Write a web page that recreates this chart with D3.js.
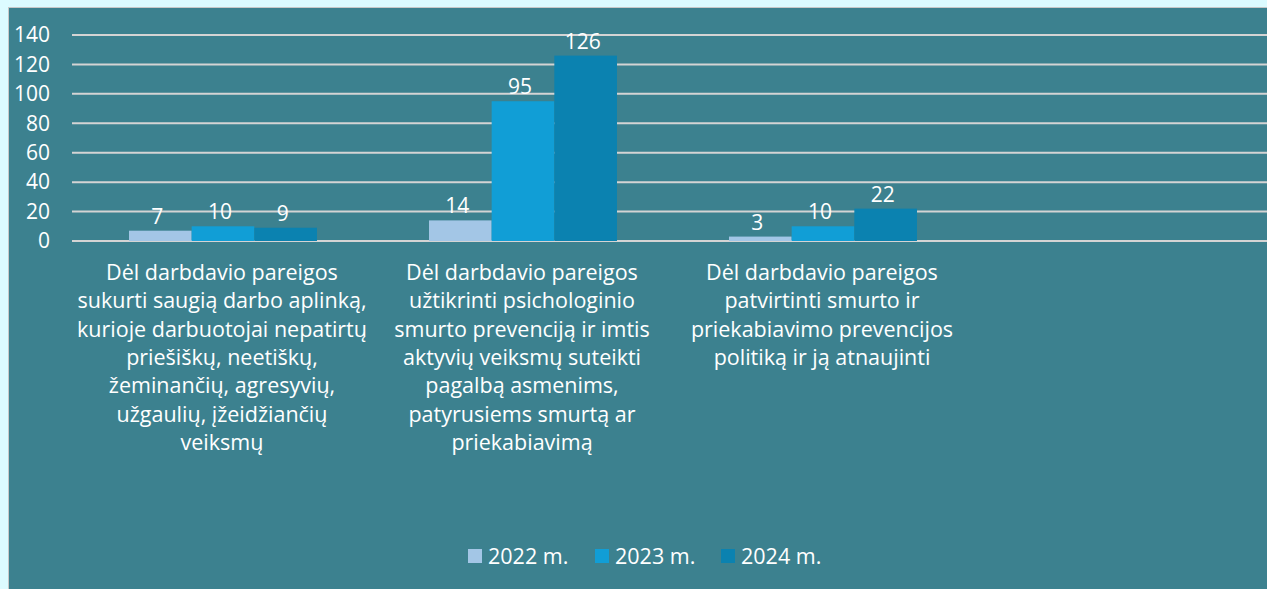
<!DOCTYPE html>
<html>
<head>
<meta charset="utf-8">
<script src="https://cdn.jsdelivr.net/npm/d3@7"></script>
<style>
  html, body { margin: 0; padding: 0; background: #dcfbff; }
  svg { display: block; }
</style>
</head>
<body>
<script>
// categories, lines kept as they wrap in the picture; last band is empty
var categories = [
  "Dėl darbdavio pareigos\nsukurti saugią darbo aplinką,\nkurioje darbuotojai nepatirtų\npriešiškų, neetiškų,\nžeminančių, agresyvių,\nužgaulių, įžeidžiančių\nveiksmų",
  "Dėl darbdavio pareigos\nužtikrinti psichologinio\nsmurto prevenciją ir imtis\naktyvių veiksmų suteikti\npagalbą asmenims,\npatyrusiems smurtą ar\npriekabiavimą",
  "Dėl darbdavio pareigos\npatvirtinti smurto ir\npriekabiavimo prevencijos\npolitiką ir ją atnaujinti",
  ""
];
var seriesNames = ["2022 m.", "2023 m.", "2024 m."];
var values2022 = [7, 14, 3, null];
var values2023 = [10, 95, 10, null];
var values2024 = [9, 126, 22, null];
var yTicks = [0, 20, 40, 60, 80, 100, 120, 140];

var colors = ["#a3c6e6", "#119ed6", "#0b82b0"];
var allValues = [values2022, values2023, values2024];

var W = 1267, H = 589;
var font = "'Open Sans', sans-serif";

var svg = d3.select("body").append("svg")
  .attr("width", W)
  .attr("height", H);

// panel
svg.append("rect")
  .attr("x", 8.5).attr("y", 7.5)
  .attr("width", W).attr("height", H)
  .attr("fill", "#3c818f")
  .attr("stroke", "#c8c8c8")
  .attr("stroke-width", 1);

var plotLeft = 72, plotRight = 1272;

var x0 = d3.scaleBand()
  .domain(d3.range(categories.length))
  .range([plotLeft, plotRight]);

var x1 = d3.scaleBand()
  .domain(seriesNames)
  .range([57, 245]);

var y = d3.scaleLinear()
  .domain([0, 140])
  .range([241, 35]);

// grid lines
svg.append("g")
  .selectAll("line")
  .data(yTicks)
  .join("line")
  .attr("x1", plotLeft)
  .attr("x2", W)
  .attr("y1", d => y(d))
  .attr("y2", d => y(d))
  .attr("stroke", "#d4d4d4")
  .attr("stroke-width", 2);

// y axis labels
var yAxis = svg.append("g")
  .attr("transform", "translate(" + 62 + ",0)")
  .call(d3.axisLeft(y).tickValues(yTicks).tickSize(0).tickPadding(12));
yAxis.select(".domain").remove();
yAxis.selectAll("text")
  .attr("fill", "#ffffff")
  .attr("font-family", font)
  .attr("font-size", 21);

// bars
var rows = [];
categories.forEach(function (c, i) {
  seriesNames.forEach(function (s, j) {
    if (allValues[j][i] != null) rows.push({ cat: i, series: s, idx: j, value: allValues[j][i] });
  });
});

svg.append("g")
  .selectAll("rect")
  .data(rows)
  .join("rect")
  .attr("x", d => x0(d.cat) + x1(d.series))
  .attr("width", x1.bandwidth())
  .attr("y", d => y(d.value))
  .attr("height", d => y(0) - y(d.value))
  .attr("fill", d => colors[d.idx]);

// value labels
svg.append("g")
  .selectAll("text")
  .data(rows)
  .join("text")
  .attr("x", d => x0(d.cat) + x1(d.series) + x1.bandwidth() / 2 - 3)
  .attr("y", d => y(d.value) - 7)
  .attr("text-anchor", "middle")
  .attr("fill", "#ffffff")
  .attr("font-family", font)
  .attr("font-size", 21)
  .text(d => d.value);

// category labels
var catG = svg.append("g")
  .selectAll("text")
  .data(categories)
  .join("text")
  .attr("x", (d, i) => x0(i) + x0.bandwidth() / 2)
  .attr("y", 280)
  .attr("text-anchor", "middle")
  .attr("fill", "#ffffff")
  .attr("font-family", font)
  .attr("font-size", 21.5);

catG.selectAll("tspan")
  .data(d => d ? d.split("\n") : [])
  .join("tspan")
  .attr("x", function () { return d3.select(this.parentNode).attr("x"); })
  .attr("dy", (d, i) => i === 0 ? 0 : 28.3)
  .text(d => d);

// legend
var legendX = [468, 595, 721];
var legend = svg.append("g")
  .selectAll("g")
  .data(seriesNames)
  .join("g")
  .attr("transform", (d, i) => "translate(" + legendX[i] + ",549)");

legend.append("rect")
  .attr("width", 14).attr("height", 14)
  .attr("fill", (d, i) => colors[i]);

legend.append("text")
  .attr("x", 20)
  .attr("y", 14.5)
  .attr("fill", "#ffffff")
  .attr("font-family", font)
  .attr("font-size", 21.5)
  .text(d => d);
</script>
</body>
</html>
